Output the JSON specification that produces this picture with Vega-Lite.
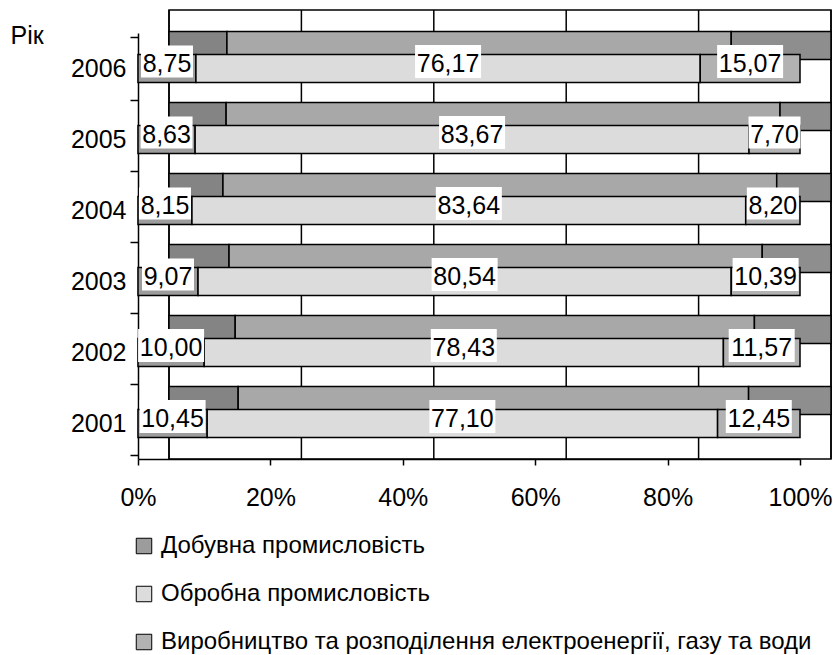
{
  "$schema": "https://vega.github.io/schema/vega-lite/v6.json",
  "width": 662,
  "height": 426,
  "autosize": "none",
  "padding": {"left": 138, "top": 33, "right": 33, "bottom": 196},
  "background": "white",
  "config": {
    "locale": {"number": {"decimal": ",", "thousands": " ", "grouping": [3], "currency": ["", ""]}},
    "font": "Liberation Sans, Arial, sans-serif",
    "view": {"stroke": null}
  },
  "data": {
    "values": [
      {"year": "2006", "series": "Добувна промисловість", "v": 8.75},
      {"year": "2006", "series": "Обробна промисловість", "v": 76.17},
      {"year": "2006", "series": "Виробництво та розподілення електроенергії, газу та води", "v": 15.07},
      {"year": "2005", "series": "Добувна промисловість", "v": 8.63},
      {"year": "2005", "series": "Обробна промисловість", "v": 83.67},
      {"year": "2005", "series": "Виробництво та розподілення електроенергії, газу та води", "v": 7.70},
      {"year": "2004", "series": "Добувна промисловість", "v": 8.15},
      {"year": "2004", "series": "Обробна промисловість", "v": 83.64},
      {"year": "2004", "series": "Виробництво та розподілення електроенергії, газу та води", "v": 8.20},
      {"year": "2003", "series": "Добувна промисловість", "v": 9.07},
      {"year": "2003", "series": "Обробна промисловість", "v": 80.54},
      {"year": "2003", "series": "Виробництво та розподілення електроенергії, газу та води", "v": 10.39},
      {"year": "2002", "series": "Добувна промисловість", "v": 10.00},
      {"year": "2002", "series": "Обробна промисловість", "v": 78.43},
      {"year": "2002", "series": "Виробництво та розподілення електроенергії, газу та води", "v": 11.57},
      {"year": "2001", "series": "Добувна промисловість", "v": 10.45},
      {"year": "2001", "series": "Обробна промисловість", "v": 77.10},
      {"year": "2001", "series": "Виробництво та розподілення електроенергії, газу та води", "v": 12.45}
    ]
  },
  "transform": [
    {"calculate": "indexof(['Добувна промисловість','Обробна промисловість','Виробництво та розподілення електроенергії, газу та води'], datum.series)", "as": "k"},
    {"stack": "v", "groupby": ["year"], "sort": [{"field": "k", "order": "ascending"}], "offset": "normalize", "as": ["v0", "v1"]},
    {"calculate": "(datum.v0 + datum.v1) / 2", "as": "mid"}
  ],
  "layer": [
    {
      "data": {"values": [{"g": 0}, {"g": 0.2}, {"g": 0.4}, {"g": 0.6}, {"g": 0.8}, {"g": 1}]},
      "transform": [],
      "mark": {"type": "rule", "color": "black", "strokeWidth": 1.5, "xOffset": 31, "yOffset": -23, "y2Offset": -23},
      "encoding": {"x": {"field": "g", "type": "quantitative", "scale": {"domain": [0, 1]}}}
    },
    {
      "data": {"values": [{"a": 0, "b": 1}]},
      "transform": [],
      "mark": {"type": "rect", "fill": "transparent", "stroke": "black", "strokeWidth": 1.5, "xOffset": 31, "x2Offset": 31, "yOffset": -23, "y2Offset": -23},
      "encoding": {
        "x": {"field": "a", "type": "quantitative"},
        "x2": {"field": "b"}
      }
    },
    {
      "mark": {"type": "bar", "height": 28, "stroke": "black", "strokeWidth": 1.5, "xOffset": 31, "x2Offset": 31, "yOffset": -23},
      "encoding": {
        "y": {"field": "year", "type": "ordinal", "sort": "descending"},
        "x": {"field": "v0", "type": "quantitative"},
        "x2": {"field": "v1"},
        "fill": {
          "condition": [
            {"test": "datum.k == 0", "value": "#848484"},
            {"test": "datum.k == 1", "value": "#a8a8a8"}
          ],
          "value": "#8e8e8e"
        }
      }
    },
    {
      "mark": {"type": "bar", "height": 28, "stroke": "black", "strokeWidth": 1.5, "opacity": 1},
      "encoding": {
        "y": {
          "field": "year", "type": "ordinal", "sort": "descending",
          "axis": {
            "title": "Рік", "titleAngle": 0, "titleAlign": "left", "titleBaseline": "middle",
            "titleX": -128, "titleY": 2, "titleFontSize": 25, "titleFontWeight": "normal",
            "labelFontSize": 25, "labelColor": "black", "labelPadding": 4,
            "tickBand": "extent", "tickSize": 8, "tickColor": "black", "tickWidth": 1.5,
            "domainColor": "black", "domainWidth": 1.5, "grid": false
          }
        },
        "x": {
          "field": "v0", "type": "quantitative",
          "scale": {"domain": [0, 1], "nice": false},
          "axis": {
            "title": null, "format": ".0%", "values": [0, 0.2, 0.4, 0.6, 0.8, 1],
            "labelFontSize": 25, "labelColor": "black", "labelPadding": 20,
            "tickSize": 6, "tickColor": "black", "tickWidth": 1.5,
            "domainColor": "black", "domainWidth": 1.5, "grid": false,
            "labelFlush": false
          }
        },
        "x2": {"field": "v1"},
        "color": {
          "field": "series", "type": "nominal",
          "sort": ["Добувна промисловість", "Обробна промисловість", "Виробництво та розподілення електроенергії, газу та води"],
          "scale": {
            "domain": ["Добувна промисловість", "Обробна промисловість", "Виробництво та розподілення електроенергії, газу та води"],
            "range": ["#9c9c9c", "#dcdcdc", "#b2b2b2"]
          },
          "legend": {
            "title": null, "orient": "none", "legendX": -6, "legendY": 501,
            "direction": "vertical", "padding": 0,
            "symbolType": "square", "symbolSize": 240, "symbolStrokeColor": "black", "symbolStrokeWidth": 1,
            "labelFontSize": 24, "labelColor": "black", "labelOffset": 5, "rowPadding": 24, "labelLimit": 800
          }
        }
      }
    },
    {
      "mark": {"type": "point", "filled": true, "fill": "white", "opacity": 1, "strokeWidth": 0, "yOffset": -7},
      "encoding": {
        "y": {"field": "year", "type": "ordinal", "sort": "descending"},
        "x": {"field": "mid", "type": "quantitative"},
        "shape": {
          "condition": {"test": "datum.v >= 10", "value": "M-1,-0.5H1V0.5H-1Z"},
          "value": "M-1,-0.62H1V0.62H-1Z"
        },
        "size": {
          "condition": {"test": "datum.v >= 10", "value": 4356},
          "value": 2704
        }
      }
    },
    {
      "mark": {"type": "text", "fontSize": 25, "color": "black", "align": "center", "baseline": "middle", "yOffset": -5},
      "encoding": {
        "y": {"field": "year", "type": "ordinal", "sort": "descending"},
        "x": {"field": "mid", "type": "quantitative"},
        "text": {"field": "v", "type": "quantitative", "format": ".2f"}
      }
    }
  ]
}
